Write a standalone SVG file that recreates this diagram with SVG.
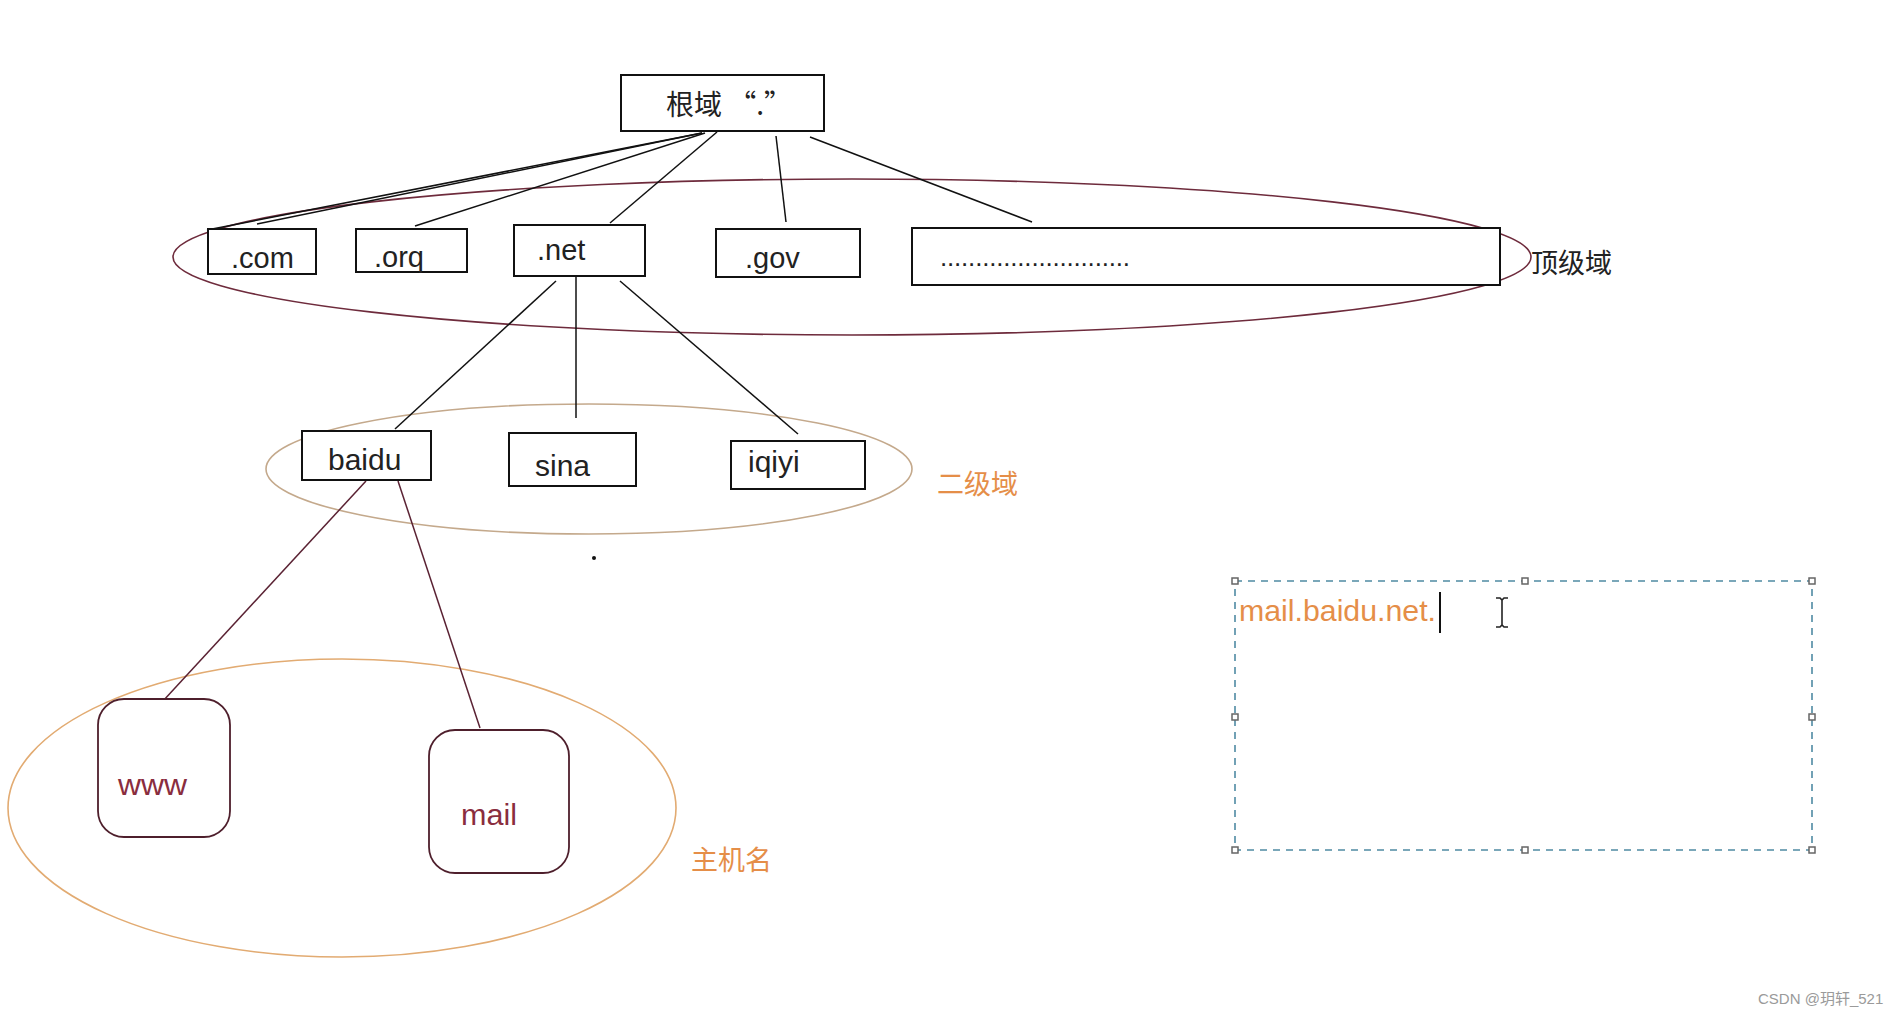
<svg xmlns="http://www.w3.org/2000/svg" width="1902" height="1017" viewBox="0 0 1902 1017">
<style>
.box{fill:#fff;stroke:#111;stroke-width:2}
.t{font-family:"Liberation Sans","Noto Sans CJK SC",sans-serif;fill:#222}
.cn{font-family:"Noto Sans CJK SC","Liberation Sans",sans-serif}
.ln{stroke:#111;stroke-width:1.5;fill:none}
.mr{stroke:#5a2233;stroke-width:1.5;fill:none}
.host{fill:#fff;stroke:#4e1f2c;stroke-width:1.8}
.ht{font-family:"Liberation Sans",sans-serif;fill:#8a2d3e;font-size:29px}
.or{fill:#e58e48}
.h{fill:#fff;stroke:#666;stroke-width:1.5}
</style>
<rect width="1902" height="1017" fill="#fff"/>
<g id="groups">
<ellipse cx="852" cy="257" rx="679" ry="78" fill="none" stroke="#6e2b3c" stroke-width="1.6"/>
<ellipse cx="589" cy="469" rx="323" ry="65" fill="none" stroke="#c4a98c" stroke-width="1.6"/>
<ellipse cx="342" cy="808" rx="334" ry="149" fill="none" stroke="#e2ab72" stroke-width="1.6"/>
</g>
<g id="connectors">
<line class="ln" x1="702" y1="133" x2="207" y2="230"/>
<line class="ln" x1="702" y1="133" x2="257" y2="224"/>
<line class="ln" x1="705" y1="133" x2="415" y2="226"/>
<line class="ln" x1="717" y1="132" x2="610" y2="223"/>
<line class="ln" x1="776" y1="136" x2="786" y2="222"/>
<line class="ln" x1="810" y1="137" x2="1032" y2="222"/>
<line class="ln" x1="556" y1="281" x2="395" y2="429"/>
<line class="ln" x1="576" y1="277" x2="576" y2="418"/>
<line class="ln" x1="620" y1="281" x2="798" y2="434"/>
<line class="mr" x1="366" y1="481" x2="163" y2="701"/>
<line class="mr" x1="398" y1="481" x2="480" y2="728"/>
</g>
<g id="root">
<rect class="box" x="621" y="75" width="203" height="56"/>
<text class="t cn" x="666" y="115" font-size="28">根域 “.”</text>
</g>
<g id="com">
<rect class="box" x="208" y="229" width="108" height="45"/>
<text class="t" x="231" y="268" font-size="29">.com</text>
</g>
<g id="org">
<rect class="box" x="356" y="229" width="111" height="43"/>
<text class="t" x="374" y="267" font-size="29">.orq</text>
</g>
<g id="net">
<rect class="box" x="514" y="225" width="131" height="51"/>
<text class="t" x="537" y="260" font-size="29">.net</text>
</g>
<g id="gov">
<rect class="box" x="716" y="229" width="144" height="48"/>
<text class="t" x="745" y="268" font-size="29">.gov</text>
</g>
<g id="more">
<rect class="box" x="912" y="228" width="588" height="57"/>
<text class="t" x="940" y="266" font-size="26" textLength="190">...........................</text>
</g>
<g id="label-top">
<text class="t cn" x="1531" y="273" font-size="27" fill="#333">顶级域</text>
</g>
<g id="baidu">
<rect class="box" x="302" y="431" width="129" height="49"/>
<text class="t" x="328" y="470" font-size="30">baidu</text>
</g>
<g id="sina">
<rect class="box" x="509" y="433" width="127" height="53"/>
<text class="t" x="535" y="476" font-size="30">sina</text>
</g>
<g id="iqiyi">
<rect class="box" x="731" y="441" width="134" height="48"/>
<text class="t" x="748" y="472" font-size="30">iqiyi</text>
</g>
<g id="label-second">
<text class="cn or" x="937" y="494" font-size="27">二级域</text>
</g>
<circle cx="594" cy="558" r="2" fill="#111"/>
<g id="www">
<rect class="host" x="98" y="699" width="132" height="138" rx="26"/>
<text class="ht" x="118" y="795" textLength="69" lengthAdjust="spacingAndGlyphs">www</text>
</g>
<g id="mail">
<rect class="host" x="429" y="730" width="140" height="143" rx="26"/>
<text class="ht" x="461" y="825" textLength="56" lengthAdjust="spacingAndGlyphs">mail</text>
</g>
<g id="label-host">
<text class="cn or" x="691" y="870" font-size="27">主机名</text>
</g>
<g id="textbox">
<rect x="1235" y="581" width="577" height="269" fill="none" stroke="#4f8aa3" stroke-width="1.6" stroke-dasharray="7 6"/>
<rect class="h" x="1232" y="578" width="6" height="6"/>
<rect class="h" x="1522" y="578" width="6" height="6"/>
<rect class="h" x="1809" y="578" width="6" height="6"/>
<rect class="h" x="1232" y="714" width="6" height="6"/>
<rect class="h" x="1809" y="714" width="6" height="6"/>
<rect class="h" x="1232" y="847" width="6" height="6"/>
<rect class="h" x="1522" y="847" width="6" height="6"/>
<rect class="h" x="1809" y="847" width="6" height="6"/>
<text class="or" x="1239" y="621" font-family="Liberation Sans,sans-serif" font-size="29" textLength="197" lengthAdjust="spacingAndGlyphs">mail.baidu.net.</text>
<line x1="1440" y1="592" x2="1440" y2="633" stroke="#111" stroke-width="2"/>
<path d="M1496 598h4l2 2l2-2h4M1502 600v25M1496 627h4l2-2l2 2h4" fill="none" stroke="#222" stroke-width="1.6"/>
</g>
<text x="1758" y="1004" font-family="Liberation Sans,'Noto Sans CJK SC',sans-serif" font-size="15" fill="#9a9a9a">CSDN @玥轩_521</text>
</svg>
